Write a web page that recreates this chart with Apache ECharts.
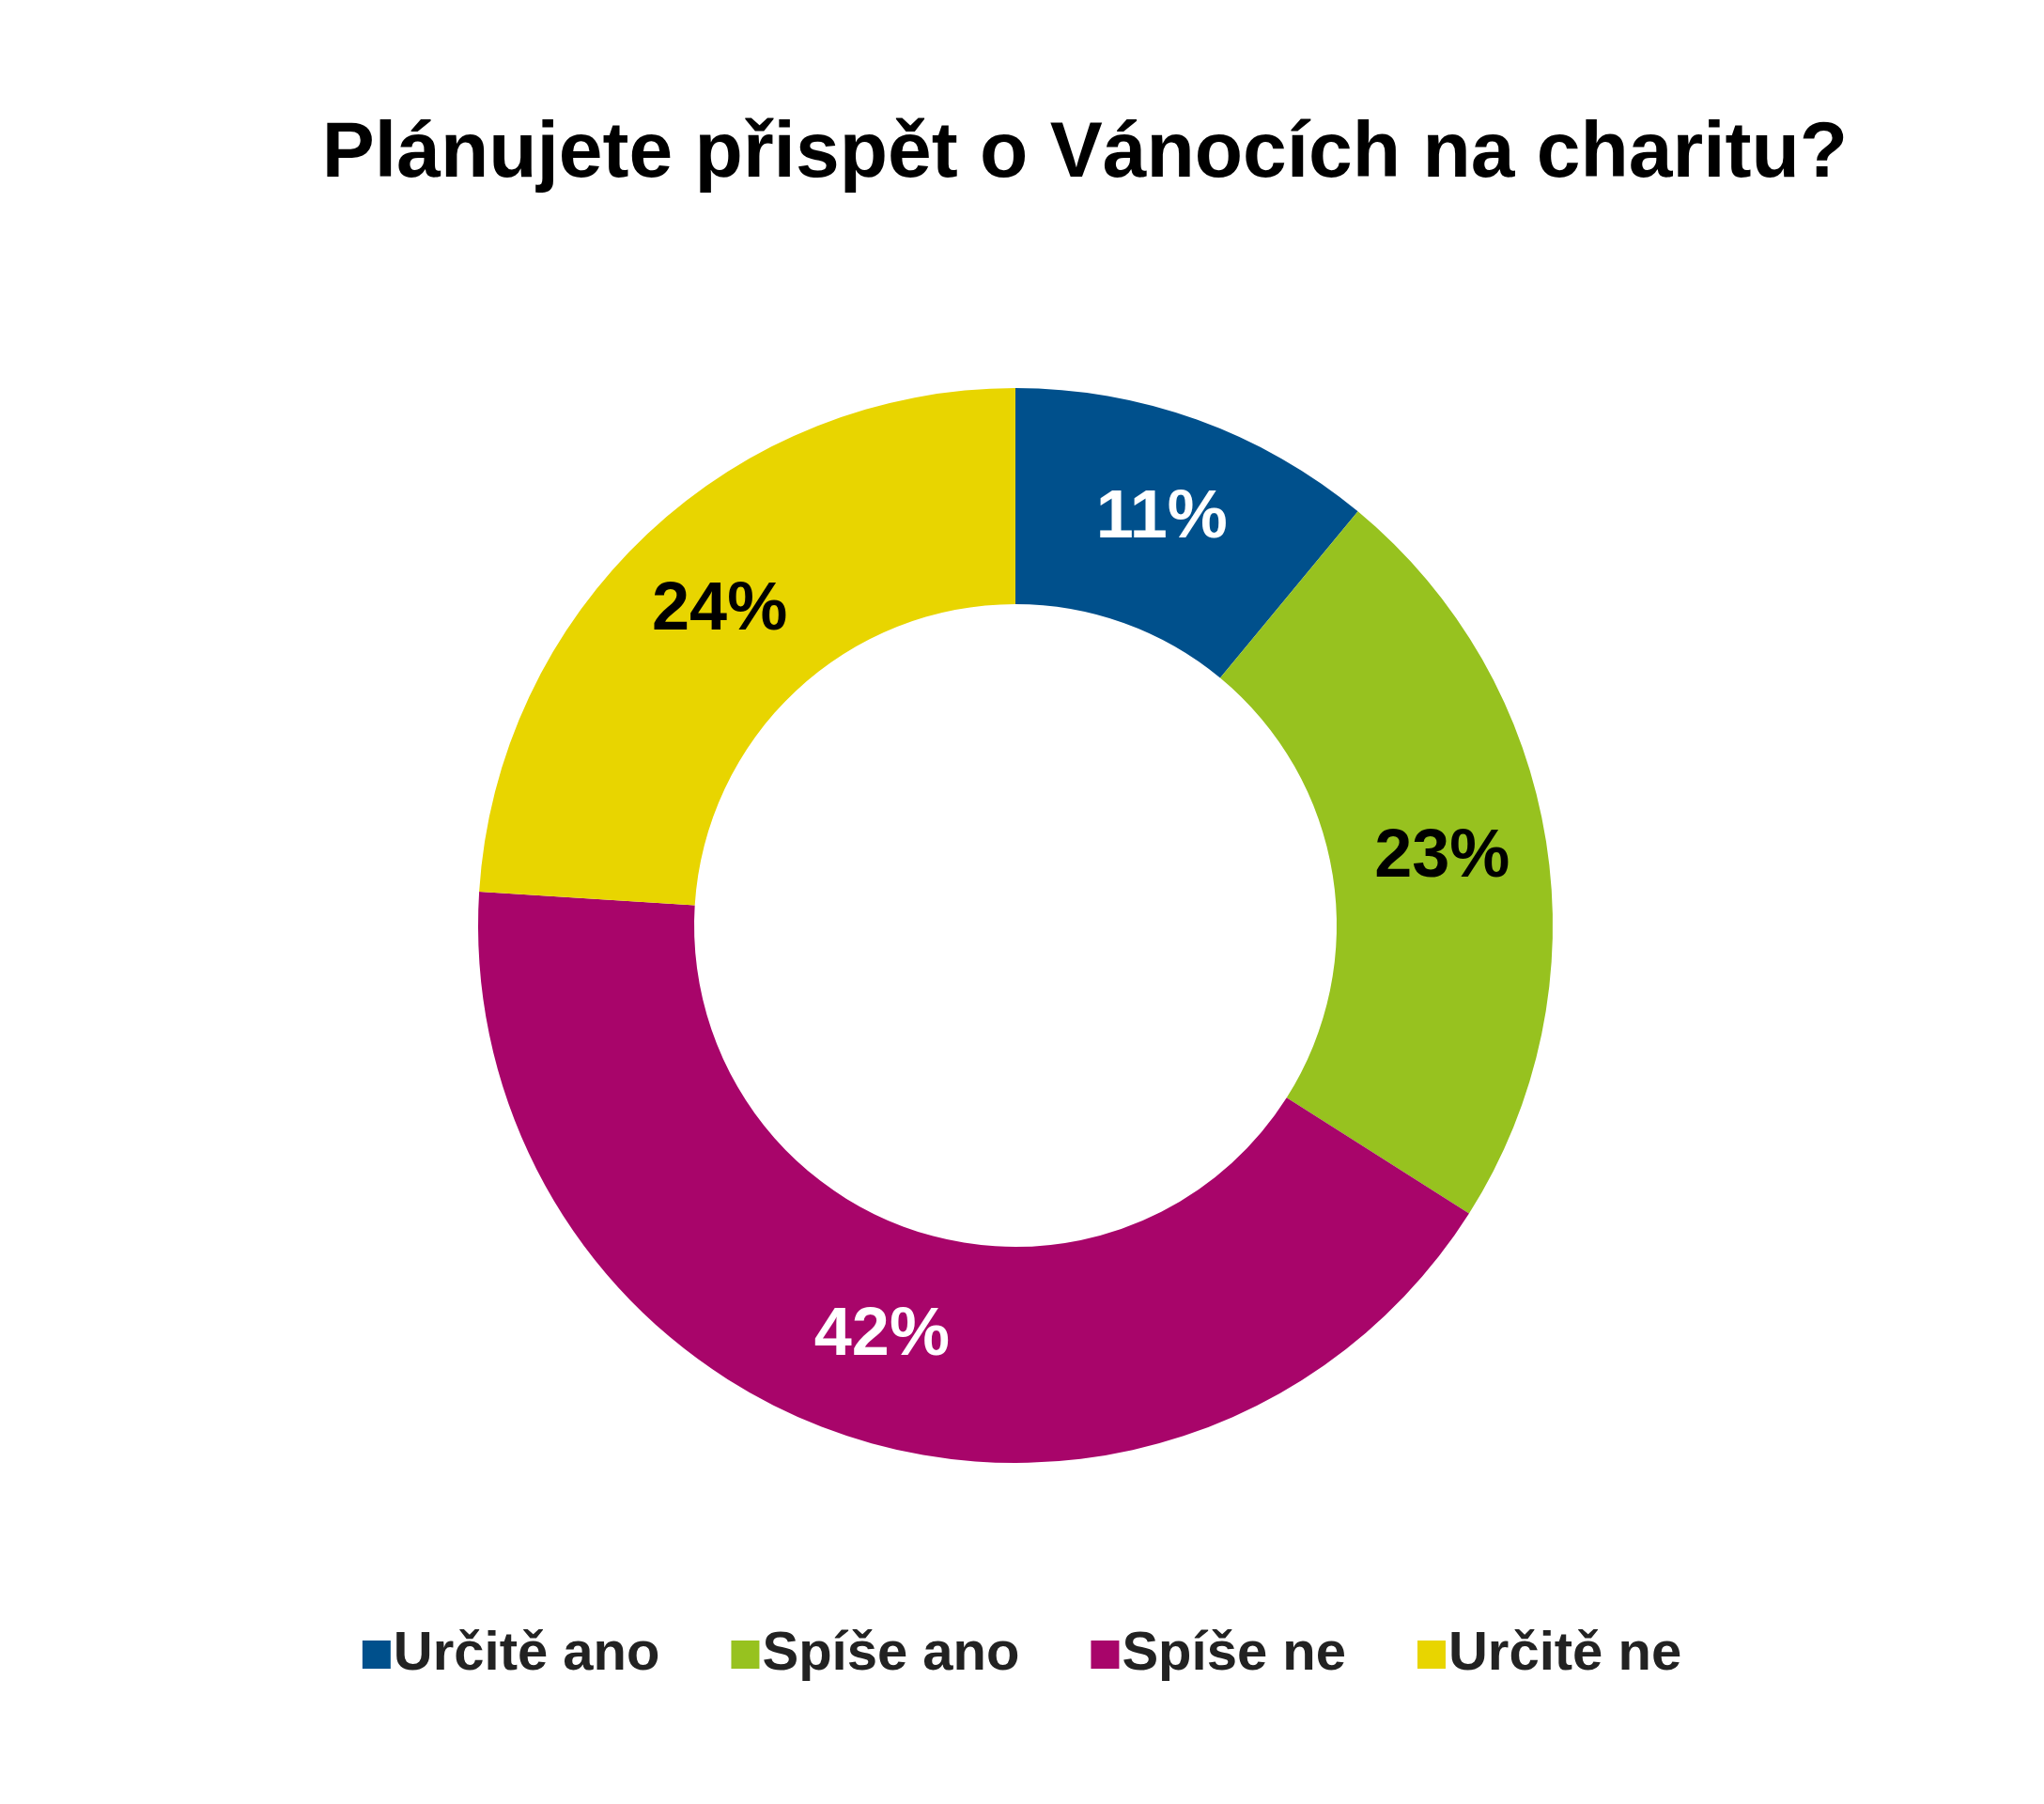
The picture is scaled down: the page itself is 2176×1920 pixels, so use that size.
<!DOCTYPE html>
<html>
<head>
<meta charset="utf-8">
<script src="https://cdn.jsdelivr.net/npm/echarts@6/dist/echarts.min.js"></script>
<style>html,body{margin:0;padding:0;background:#fff}#c{width:2176px;height:1920px}</style>
</head>
<body>
<div id="c"></div>
<script>
var categories = ['Určitě ano', 'Spíše ano', 'Spíše ne', 'Určitě ne'];
var values = [11, 23, 42, 24];
var colors = ['#00508c', '#97c21f', '#a8056a', '#e8d500'];
var labelColors = ['#fff', '#000', '#fff', '#000'];

var chart = echarts.init(document.getElementById('c'));
var font = '"Liberation Sans", Arial, sans-serif';

chart.setOption({
  animation: false,
  title: {
    text: 'Plánujete přispět o Vánocích na charitu?',
    left: 1150, top: 118, textAlign: 'center',
    textStyle: { fontFamily: font, fontSize: 84, fontWeight: 'bold', color: '#000' }
  },
  legend: {
    bottom: 125, left: 'center',
    itemWidth: 30, itemHeight: 30, itemGap: 76,
    icon: 'rect',
    textStyle: { fontFamily: font, fontSize: 58, fontWeight: 'bold', color: '#222', padding: [0, 0, 0, -2] },
    data: categories
  },
  series: [{
    type: 'pie',
    center: [1081, 985],
    radius: [342, 572],
    startAngle: 90,
    clockwise: true,
    label: {
      position: 'inside',
      formatter: '{c}%',
      fontFamily: font, fontSize: 72, fontWeight: 'bold'
    },
    labelLine: { show: false },
    data: categories.map(function (n, i) {
      return {
        name: n, value: values[i],
        itemStyle: { color: colors[i] },
        label: { color: labelColors[i] }
      };
    })
  }]
});
</script>
</body>
</html>
